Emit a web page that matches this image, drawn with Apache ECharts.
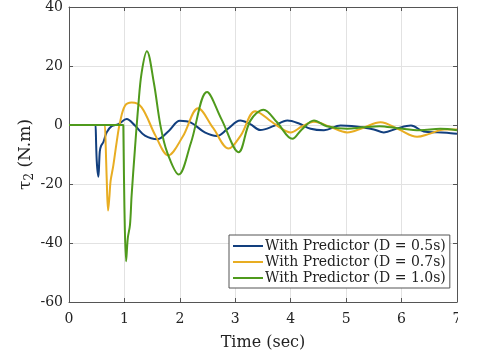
<!DOCTYPE html>
<html>
<head>
<meta charset="utf-8">
<script src="https://cdn.jsdelivr.net/npm/echarts@6/dist/echarts.min.js"></script>
<style>
  html, body { margin: 0; padding: 0; background: #fff; }
  #chart { width: 484px; height: 356px; }
</style>
</head>
<body>
<div id="chart"></div>
<script>
// Joint torque response for three predictor delays
const seriesNames = [
  'With Predictor (D = 0.5s)',
  'With Predictor (D = 0.7s)',
  'With Predictor (D = 1.0s)'
];
const seriesColors = ['#123f7e', '#e8ad22', '#4f9a1c'];

const tD05 = [0, 0.48, 0.49, 0.50, 0.53, 0.555, 0.58, 0.62, 0.68, 0.77, 0.89, 1.04, 1.19, 1.37, 1.6, 1.8, 2.0, 2.2, 2.45, 2.67, 2.85, 3.09, 3.27, 3.45, 3.7, 3.94, 4.15, 4.36, 4.6, 4.9, 5.1, 5.3, 5.5, 5.68, 5.93, 6.17, 6.4, 6.65, 6.89, 7.0];
const vD05 = [0, 0, 0, -12, -17.5, -9, -7, -5.8, -2.5, -0.4, 0.3, 2, -0.2, -3.6, -4.8, -2, 1.4, 0.8, -2.5, -3.7, -1.5, 1.5, 0.3, -1.7, -0.3, 1.5, 0.5, -1.3, -1.8, -0.2, -0.3, -0.8, -1.5, -2.5, -1.1, -0.2, -2.2, -2.5, -2.8, -3];

const tD07 = [0, 0.65, 0.66, 0.68, 0.705, 0.73, 0.75, 0.8, 0.86, 0.92, 1.01, 1.13, 1.31, 1.56, 1.79, 2.05, 2.33, 2.6, 2.88, 3.1, 3.36, 3.7, 4.0, 4.2, 4.42, 4.7, 5.02, 5.3, 5.62, 5.95, 6.28, 6.5, 6.77, 7.0];
const vD07 = [0, 0, 0, -18, -29, -24, -19, -13.7, -5.8, 0.9, 6.5, 7.6, 6, -3.6, -10.3, -4, 5.7, -1, -8, -3.5, 4.7, 0.5, -2.5, -0.5, 1.1, -0.5, -2.5, -1, 0.9, -1.5, -4, -3, -1.5, -1.5];

const tD10 = [0, 0.98, 0.99, 1.0, 1.03, 1.06, 1.1, 1.13, 1.19, 1.25, 1.31, 1.405, 1.53, 1.65, 1.77, 1.98, 2.2, 2.49, 2.75, 3.06, 3.27, 3.51, 3.75, 4.03, 4.2, 4.42, 4.65, 5.02, 5.3, 5.6, 5.93, 6.33, 6.7, 7.0];
const vD10 = [0, 0, 0, -28, -46.2, -38.4, -33.9, -23.8, -8, 6.5, 17.7, 25, 14.4, -0.2, -9.2, -16.8, -6, 11.2, 2, -9.2, 1.4, 5.2, 1, -4.7, -1.5, 1.5, -0.4, -1.3, -0.8, -0.4, -1.1, -1.8, -1.3, -1.8];

const xTicks = [0, 1, 2, 3, 4, 5, 6, 7];
const yTicks = [-60, -40, -20, 0, 20, 40];

const pair = (ts, vs) => ts.map((t, i) => [t, vs[i]]);
const seriesData = [pair(tD05, vD05), pair(tD07, vD07), pair(tD10, vD10)];

const serif = '"DejaVu Serif", "Liberation Serif", serif';
const axisGray = '#555';
const gridGray = '#e2e2e2';
const ink = '#222';

const chart = echarts.init(document.getElementById('chart'), null, { renderer: 'canvas' });

const baseX = {
  type: 'value', min: xTicks[0], max: xTicks[xTicks.length - 1], interval: 1,
  axisLine: { show: true, onZero: false, lineStyle: { color: axisGray, width: 1 } },
  axisTick: { show: true, inside: true, length: 4, lineStyle: { color: axisGray } }
};
const baseY = {
  type: 'value', min: yTicks[0], max: yTicks[yTicks.length - 1], interval: 20,
  axisLine: { show: true, onZero: false, lineStyle: { color: axisGray, width: 1 } },
  axisTick: { show: true, inside: true, length: 4, lineStyle: { color: axisGray } }
};

chart.setOption({
  animation: false,
  backgroundColor: '#fff',
  grid: { left: 69, top: 7, right: 27, bottom: 52, containLabel: false },
  xAxis: [
    Object.assign({}, baseX, {
      position: 'bottom',
      name: 'Time (sec)', nameLocation: 'middle', nameGap: 33,
      nameTextStyle: { fontFamily: serif, fontSize: 16, color: ink },
      axisLabel: { fontFamily: serif, fontSize: 14, color: ink, margin: 10 },
      splitLine: { show: true, lineStyle: { color: gridGray, width: 1 } }
    }),
    Object.assign({}, baseX, {
      position: 'top', axisLabel: { show: false }, splitLine: { show: false }
    })
  ],
  yAxis: [
    Object.assign({}, baseY, {
      position: 'left',
      name: '{t|τ}{s|2} {t|(N.m)}', nameLocation: 'middle', nameGap: 33, nameRotate: 90,
      nameMoveOverlap: false,
      nameTextStyle: {
        fontFamily: serif, fontSize: 17, color: ink,
        rich: {
          t: { fontFamily: serif, fontSize: 17, color: ink },
          s: { fontFamily: serif, fontSize: 12, color: ink, verticalAlign: 'bottom', padding: [8, 0, 0, 0] }
        }
      },
      axisLabel: { fontFamily: serif, fontSize: 14, color: ink, margin: 6 },
      splitLine: { show: true, lineStyle: { color: gridGray, width: 1 } }
    }),
    Object.assign({}, baseY, {
      position: 'right', axisLabel: { show: false }, splitLine: { show: false }
    })
  ],
  legend: {
    orient: 'vertical',
    left: 229, top: 235,
    backgroundColor: '#fff',
    borderColor: '#555', borderWidth: 1,
    padding: [4, 4, 3, 4],
    itemGap: 2,
    itemWidth: 30, itemHeight: 2,
    icon: 'rect',
    textStyle: { fontFamily: serif, fontSize: 14, color: ink, padding: [0, 0, 0, -3] },
    data: seriesNames
  },
  series: seriesData.map((d, i) => ({
    name: seriesNames[i],
    type: 'line',
    data: d,
    showSymbol: false,
    smooth: 0.35,
    lineStyle: { color: seriesColors[i], width: 2 },
    itemStyle: { color: seriesColors[i] },
    z: 3 + i
  })),
  graphic: [{
    type: 'rect', left: 458, top: 308, z: 100,
    shape: { width: 26, height: 26 },
    style: { fill: '#fff' }
  }]
});
</script>
</body>
</html>
